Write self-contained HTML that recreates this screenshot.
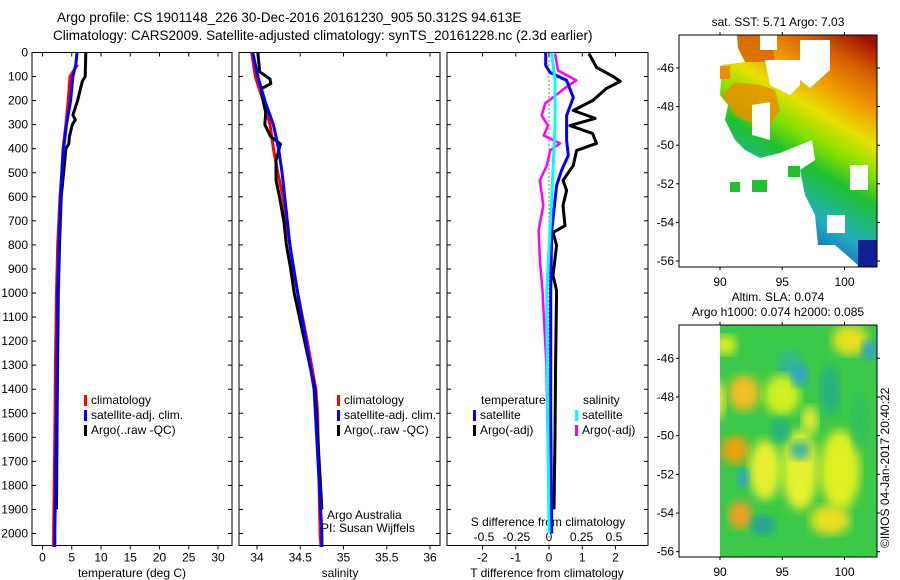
<!DOCTYPE html>
<html><head><meta charset="utf-8">
<style>
html,body{margin:0;padding:0;background:#fff;}
svg{display:block;font-family:"Liberation Sans",sans-serif;}
text{fill:#000;}
</style></head>
<body>
<svg id="fig" width="900" height="580" viewBox="0 0 900 580" xmlns="http://www.w3.org/2000/svg">
<defs>
<linearGradient id="sstGrad" x1="0.9" y1="0" x2="0.5" y2="1">
<stop offset="0" stop-color="#a01000"/>
<stop offset="0.13" stop-color="#d86000"/>
<stop offset="0.27" stop-color="#f0a000"/>
<stop offset="0.38" stop-color="#e8e000"/>
<stop offset="0.5" stop-color="#80e000"/>
<stop offset="0.6" stop-color="#20c030"/>
<stop offset="0.78" stop-color="#20b0c0"/>
<stop offset="1" stop-color="#1030b0"/>
</linearGradient>
<filter id="blur"><feGaussianBlur stdDeviation="5"/></filter>
<clipPath id="slaClip"><rect x="720" y="325" width="157" height="232"/></clipPath>
</defs>
<text x="57" y="22" font-size="13.5">Argo profile: CS 1901148_226 30-Dec-2016 20161230_905 50.312S 94.613E</text>
<text x="53" y="40" font-size="13.5">Climatology: CARS2009. Satellite-adjusted climatology: synTS_20161228.nc (2.3d earlier)</text>
<g id="plots"></g>
<text x="778" y="26" font-size="12" text-anchor="middle">sat. SST: 5.71  Argo: 7.03</text>
<text x="778" y="301" font-size="12" text-anchor="middle">Altim. SLA: 0.074</text>
<text x="778" y="316" font-size="12" text-anchor="middle">Argo h1000: 0.074 h2000: 0.085</text>
<text transform="translate(889,548) rotate(-90)" font-size="12">©IMOS 04-Jan-2017 20:40:22</text>
</svg>
<script>
// ---- data ----
const depthTicks=[0,100,200,300,400,500,600,700,800,900,1000,1100,1200,1300,1400,1500,1600,1700,1800,1900,2000];
const tempTicks=[0,5,10,15,20,25,30];
const salTicks=[34,34.5,35,35.5,36];
const tdiffTicks=[-2,-1,0,1,2];
const sdiffTicks=[-0.5,-0.25,0,0.25,0.5];
const sdiffTickLabels=["-0.5","-0.25","0","0.25","0.5"];

const tClimDepth=[50,100,200,300,400,500,600,800,1000,1300,1600,1800,2000,2056];
const tClimVal=[6.0,4.7,4.4,4.0,3.5,3.3,3.0,2.6,2.4,2.2,2.1,2.0,1.9,1.9];
const tSatDepth=[0,50,100,200,300,400,500,600,800,1000,1500,2000,2056];
const tSatVal=[5.9,5.7,5.2,4.8,4.1,3.6,3.3,3.1,2.8,2.6,2.4,2.1,2.1];
const tArgoDepth=[0,100,120,150,200,260,280,300,350,380,400,500,600,800,1000,1500,1900];
const tArgoVal=[7.4,7.3,6.8,6.5,6.0,5.2,5.6,5.1,4.6,4.5,4.0,3.6,3.2,2.9,2.7,2.5,2.4];

const sClimDepth=[0,100,200,300,400,500,600,900,1000,1200,1300,1400,1500,2000,2056];
const sClimVal=[33.94,33.98,34.07,34.15,34.19,34.24,34.30,34.42,34.47,34.58,34.63,34.68,34.70,34.73,34.74];
const sSatDepth=[0,100,200,300,400,500,600,800,1000,1400,2000,2056];
const sSatVal=[33.95,34.01,34.09,34.19,34.25,34.29,34.32,34.38,34.47,34.66,34.75,34.75];
const sArgoDepth=[0,80,110,130,150,200,250,300,350,380,450,530,600,700,800,900,1000,1200,1400,1900];
const sArgoVal=[34.01,34.03,34.15,34.16,34.05,34.07,34.10,34.09,34.16,34.27,34.22,34.22,34.26,34.31,34.34,34.39,34.43,34.55,34.67,34.75];

const dTArgoDepth=[4,62,100,120,150,200,241,274,304,337,378,407,470,532,574,636,720,748,802,927,990,1300,1600,1900];
const dTArgoVal=[1.2,1.43,1.93,2.14,1.72,1.31,0.73,1.39,0.63,1.31,1.43,0.83,0.73,0.42,0.53,0.42,0.48,0.12,0.23,0.12,0.23,0.2,0.18,0.15];
const dTSatDepth=[0,54,83,116,187,262,366,428,490,553,740,990,1500,2000];
const dTSatVal=[-0.1,-0.1,0.03,0.53,0.73,0.53,0.53,0.58,0.38,0.23,0.08,0.05,0.05,0.08];
const dSSatDepth=[0,116,300,615,990,1500,2000];
const dSSatVal=[0.02,0.046,0.046,0.02,-0.018,-0.01,0.0];
const dSArgoDepth=[4,75,116,137,212,262,304,345,378,407,470,532,636,740,865,990,1300,1600,1900];
const dSArgoVal=[0.046,0.07,0.21,0.15,-0.03,-0.056,-0.008,-0.04,0.085,0.01,-0.018,-0.07,-0.044,-0.08,-0.07,-0.05,-0.02,-0.01,0.0];

const mapLatTicks=[-46,-48,-50,-52,-54,-56];
const mapLonTicks=[90,95,100];

// ---- helpers ----
const NS="http://www.w3.org/2000/svg";
const root=document.getElementById('plots');
function mk(tag,attrs,parent){const e=document.createElementNS(NS,tag);for(const k in attrs)e.setAttribute(k,attrs[k]);(parent||root).appendChild(e);return e;}
const yD=d=>52.5+d*0.2405;
const TOP=52.5,BOT=545.5;

function frame(x0,x1,name){
  const r=mk('rect',{x:x0,y:TOP,width:x1-x0,height:BOT-TOP,fill:'none',stroke:'#000','stroke-width':1});
  
  
  depthTicks.forEach(d=>{
    mk('line',{x1:x0,x2:x0+4,y1:yD(d),y2:yD(d),stroke:'#000'});
    mk('line',{x1:x1-4,x2:x1,y1:yD(d),y2:yD(d),stroke:'#000'});
  });
}
function xTicks(vals,labels,fx,x0,x1,name){
  vals.forEach((v,i)=>{
    const x=fx(v);
    mk('line',{x1:x,x2:x,y1:BOT,y2:BOT+4,stroke:'#000'});
    mk('line',{x1:x,x2:x,y1:TOP,y2:TOP+4,stroke:'#000'});
    const t=mk('text',{x:x,y:BOT+16,'font-size':12,'text-anchor':'middle'});
    t.textContent=labels[i];
    
    
  });
}
function line(depths,vals,fx,color,w,name){
  let d='';
  depths.forEach((dp,i)=>{d+=(i?'L':'M')+fx(vals[i]).toFixed(1)+','+yD(dp).toFixed(1);});
  const p=mk('path',{d:d,fill:'none',stroke:color,'stroke-width':w,'stroke-linejoin':'round'});
  
  
}
function legend(x,y,items,name){
  items.forEach((it,i)=>{
    mk('rect',{x:x,y:y+i*15-9,width:3,height:11,fill:it[1]});
    const t=mk('text',{x:x+7,y:y+i*15,'font-size':12});
    t.textContent=it[0];
    
    
  });
}

// ---- panel 1: temperature ----
const fT=v=>42.5+v*5.85;
frame(32,232,'temperature-panel');
depthTicks.forEach(d=>{
  const t=mk('text',{x:28,y:yD(d)+4,'font-size':12,'text-anchor':'end'});
  t.textContent=d;
  
  
});
xTicks(tempTicks,tempTicks.map(String),fT,32,232,'temperature-tick-label');
line(tClimDepth,tClimVal,fT,'#ff0000',3,'temp-climatology-line');
line(tArgoDepth,tArgoVal,fT,'#000000',3,'temp-argo-line');
line(tSatDepth,tSatVal,fT,'#0000ff',3,'temp-satellite-line');
legend(84,404,[['climatology','#f00'],['satellite-adj. clim.','#00f'],['Argo(..raw -QC)','#000']],'temp-legend');
let xl=mk('text',{x:132,y:577,'font-size':12,'text-anchor':'middle'});xl.textContent='temperature (deg C)';



// ---- panel 2: salinity ----
const fS=v=>257+(v-34)*86.5;
frame(239,440,'salinity-panel');
xTicks(salTicks,salTicks.map(String),fS,239,440,'salinity-tick-label');
line(sClimDepth,sClimVal,fS,'#ff0000',3,'sal-climatology-line');
line(sArgoDepth,sArgoVal,fS,'#000000',3,'sal-argo-line');
line(sSatDepth,sSatVal,fS,'#0000ff',3,'sal-satellite-line');
legend(337,404,[['climatology','#f00'],['satellite-adj. clim.','#00f'],['Argo(..raw -QC)','#000']],'sal-legend');
let t2=mk('text',{x:327,y:519,'font-size':12});t2.textContent='Argo Australia';


let t3=mk('text',{x:321,y:532,'font-size':12});t3.textContent='PI: Susan Wijffels';


xl=mk('text',{x:340,y:577,'font-size':12,'text-anchor':'middle'});xl.textContent='salinity';



// ---- panel 3: differences ----
const fDT=v=>549+v*33.25;
const fDS=v=>549+v*130;
frame(447,648,'difference-panel');
xTicks(tdiffTicks,tdiffTicks.map(String),fDT,447,648,'tdiff-tick-label');
sdiffTicks.forEach((v,i)=>{
  const t=mk('text',{x:fDS(v),y:541,'font-size':12,'text-anchor':'middle'});
  t.textContent=sdiffTickLabels[i];
  
  
});
let sd=mk('text',{x:548,y:526,'font-size':12,'text-anchor':'middle'});sd.textContent='S difference from climatology';


mk('line',{x1:549,x2:549,y1:TOP,y2:BOT,stroke:'#000','stroke-dasharray':'1,3'});
line(dTArgoDepth,dTArgoVal,fDT,'#000000',3,'tdiff-argo-line');
line(dSArgoDepth,dSArgoVal,fDS,'#ff00ff',2.5,'sdiff-argo-line');
line(dTSatDepth,dTSatVal,fDT,'#0000ff',3,'tdiff-satellite-line');
line(dSSatDepth,dSSatVal,fDS,'#00ffff',3,'sdiff-satellite-line');
let lh=mk('text',{x:481,y:404,'font-size':12});lh.textContent='temperature';


lh=mk('text',{x:583,y:404,'font-size':12});lh.textContent='salinity';


legend(473,419,[['satellite','#00f'],['Argo(-adj)','#000']],'tdiff-legend');
legend(575,419,[['satellite','#0ff'],['Argo(-adj)','#f0f']],'sdiff-legend');
xl=mk('text',{x:547,y:577,'font-size':12,'text-anchor':'middle'});xl.textContent='T difference from climatology';



// ---- maps ----
function mapAxes(x0,y0,x1,y1,latY,name){
  const fLon=v=>720+(v-90)*12.45;
  const r=mk('rect',{x:x0,y:y0,width:x1-x0,height:y1-y0,fill:'none',stroke:'#000'});
  
  
  mapLatTicks.forEach(v=>{
    const y=latY(v);
    mk('line',{x1:x0-3,x2:x0,y1:y,y2:y,stroke:'#000'});
    mk('line',{x1:x1,x2:x1+3,y1:y,y2:y,stroke:'#000'});
    const t=mk('text',{x:x0-5,y:y+4,'font-size':12,'text-anchor':'end'});
    t.textContent=v;
    
    
  });
  mapLonTicks.forEach(v=>{
    const x=fLon(v);
    mk('line',{x1:x,x2:x,y1:y0-3,y2:y0,stroke:'#000'});
    mk('line',{x1:x,x2:x,y1:y1,y2:y1+3,stroke:'#000'});
    const t=mk('text',{x:x,y:y1+19,'font-size':12,'text-anchor':'middle'});
    t.textContent=v;
    
    
  });
}
// SST map
const sst=mk('g',{});


mk('polygon',{points:'737,35 877,35 877,267 860,267 850,258 835,245 818,245 815,215 805,195 800,170 815,160 812,140 780,153 760,158 745,150 735,140 725,120 728,105 720,95 722,65 745,62 738,48',fill:'url(#sstGrad)'},sst);
mk('polygon',{points:'722,95 735,82 760,85 775,90 780,110 770,125 748,122 735,115',fill:'#e89000',opacity:'0.85'},sst);
mk('polygon',{points:'737,35 770,35 775,60 760,62 745,62 738,48',fill:'#d86000',opacity:'0.8'},sst);
mk('polygon',{points:'760,35 777,35 777,50 760,50',fill:'#fff'},sst);
mk('polygon',{points:'765,60 800,60 800,85 790,95 770,85',fill:'#fff'},sst);
mk('polygon',{points:'752,105 770,102 770,140 752,135',fill:'#fff'},sst);
mk('polygon',{points:'800,40 830,40 830,70 810,88 800,80',fill:'#fff'},sst);
mk('rect',{x:850,y:165,width:18,height:25,fill:'#fff'},sst);
mk('rect',{x:827,y:215,width:18,height:18,fill:'#fff'},sst);
mk('rect',{x:752,y:180,width:15,height:12,fill:'#22c030'},sst);
mk('rect',{x:788,y:166,width:12,height:11,fill:'#22c030'},sst);
mk('rect',{x:730,y:182,width:10,height:10,fill:'#22c030'},sst);
mk('rect',{x:720,y:66,width:10,height:13,fill:'#e89000'},sst);
mk('rect',{x:858,y:240,width:19,height:27,fill:'#102090'},sst);
mapAxes(679,35,877,267,v=>68+(v+46)*-19.3,'sst-map-frame');
// SLA map
const sla=mk('g',{'clip-path':'url(#slaClip)'});


mk('rect',{x:720,y:325,width:157,height:232,fill:'#3cc848'},sla);
const blobs=[[725,345,12,10,'#d8f020'],[744,393,16,18,'#f0c020'],[735,450,14,14,'#f0a010'],[740,515,12,14,'#f0a020'],[790,365,12,16,'#30b890'],[782,395,18,20,'#d0f020'],[800,375,8,12,'#30a0d0'],[765,470,16,30,'#e8f030'],[800,470,18,40,'#e8f030'],[840,470,20,40,'#e0f020'],[850,340,18,15,'#e8e020'],[870,350,8,10,'#30a0d0'],[800,450,10,10,'#30b0a0'],[743,478,6,10,'#30a0d0'],[830,520,20,15,'#e8e020'],[763,525,12,10,'#20a0a0'],[810,420,8,14,'#e8f030'],[715,400,10,20,'#e8f030'],[830,390,10,25,'#28b080'],[780,430,10,12,'#28b080'],[860,420,8,30,'#30c060']];
blobs.forEach(b=>mk('ellipse',{cx:b[0],cy:b[1],rx:b[2],ry:b[3],fill:b[4],filter:'url(#blur)'},sla));
mapAxes(679,325,877,557,v=>358.3+(v+46)*-19.34,'sla-map-frame');
</script>
</body></html>
